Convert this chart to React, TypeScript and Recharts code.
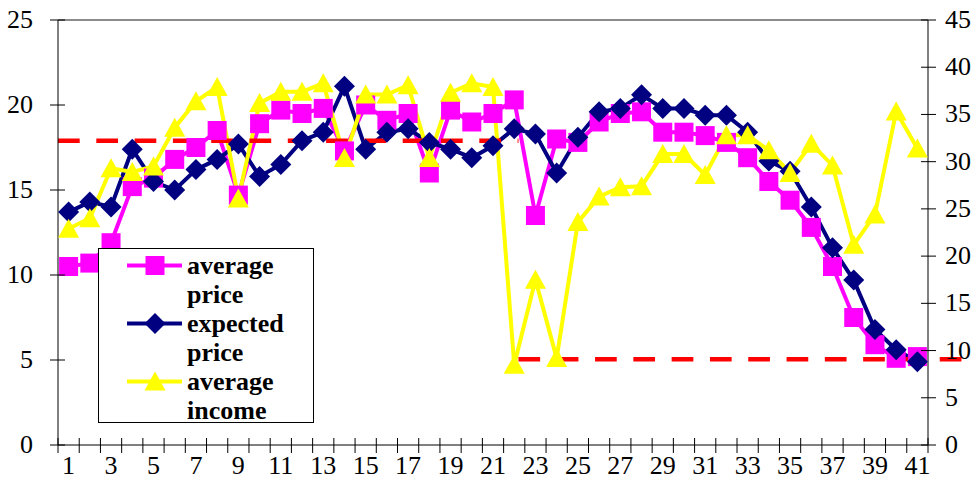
import { LineChart, Line, XAxis, YAxis, ReferenceLine, Legend } from 'recharts';

const FONT = 'Liberation Serif, DejaVu Serif, Times New Roman, Times, serif';

const periods = [
  1, 2, 3, 4, 5, 6, 7, 8, 9, 10, 11, 12, 13, 14, 15, 16, 17, 18, 19, 20, 21,
  22, 23, 24, 25, 26, 27, 28, 29, 30, 31, 32, 33, 34, 35, 36, 37, 38, 39, 40, 41,
];

// left axis
const averagePrice = [
  10.5, 10.7, 11.9, 15.2, 15.7, 16.8, 17.5, 18.5, 14.7, 18.9, 19.7, 19.5, 19.8, 17.3,
  20.0, 19.1, 19.5, 16.0, 19.7, 19.0, 19.5, 20.3, 13.5, 18.0, 17.8, 19.0, 19.5, 19.6,
  18.4, 18.4, 18.2, 17.8, 16.9, 15.5, 14.4, 12.8, 10.5, 7.5, 5.9, 5.1, 5.2,
];
const expectedPrice = [
  13.7, 14.3, 14.0, 17.4, 15.5, 15.0, 16.2, 16.8, 17.7, 15.8, 16.5, 17.9, 18.4, 21.1,
  17.4, 18.4, 18.6, 17.8, 17.4, 16.9, 17.6, 18.6, 18.3, 16.0, 18.1, 19.6, 19.8, 20.6,
  19.8, 19.8, 19.4, 19.4, 18.4, 16.7, 16.1, 14.0, 11.6, 9.7, 6.8, 5.6, 4.9,
];
// right axis
const averageIncome = [
  22.9, 24.0, 29.3, 28.9, 29.5, 33.6, 36.4, 37.9, 26.1, 36.2, 37.4, 37.4, 38.3, 30.4,
  37.1, 37.1, 38.1, 30.4, 37.3, 38.3, 37.9, 8.5, 17.5, 9.2, 23.6, 26.3, 27.3, 27.4,
  30.8, 30.8, 28.6, 32.8, 32.8, 31.2, 28.8, 31.9, 29.6, 21.2, 24.4, 35.3, 31.4,
];

const leftTicks = [0, 5, 10, 15, 20, 25];
const rightTicks = [0, 5, 10, 15, 20, 25, 30, 35, 40, 45];

// dashed levels (left axis) and the period span each one covers
const upperLevel = 17.9;
const upperSpan = [0, 21.17];
const lowerLevel = 5.05;
const lowerSpan = [21.17, 41.92];

const data = periods.map((t, i) => ({
  t,
  avgPrice: averagePrice[i],
  expPrice: expectedPrice[i],
  income: averageIncome[i],
}));

const W = 980;
const H = 487;
const LEFT_W = 58;
const RIGHT_W = 52;
const PLOT_W = W - LEFT_W - RIGHT_W;
const STEP = PLOT_W / periods.length;

const MAGENTA = '#ff00ff';
const NAVY = '#000080';
const YELLOW = '#ffff00';

const legendOrder = ['avgPrice', 'expPrice', 'income'];

function Marker({ shape, cx, cy, color }: { shape: string; cx: number; cy: number; color: string }) {
  if (shape === 'square') {
    return <rect x={cx - 9.5} y={cy - 9.5} width={19} height={19} fill={color} />;
  }
  if (shape === 'diamond') {
    return (
      <polygon
        points={`${cx},${cy - 10.5} ${cx + 10.5},${cy} ${cx},${cy + 10.5} ${cx - 10.5},${cy}`}
        fill={color}
      />
    );
  }
  return (
    <polygon
      points={`${cx},${cy - 10} ${cx + 10.5},${cy + 9} ${cx - 10.5},${cy + 9}`}
      fill={color}
    />
  );
}

const shapeOf: Record<string, string> = {
  avgPrice: 'square',
  expPrice: 'diamond',
  income: 'triangle',
};

function dotFor(key: string, color: string) {
  return (props: any) => {
    if (props.cx == null || props.cy == null) return <g key={`${key}-${props.index}`} />;
    return (
      <g key={`${key}-${props.index}`}>
        <Marker shape={shapeOf[key]} cx={props.cx} cy={props.cy} color={color} />
      </g>
    );
  };
}

function LeftTick({ x, y, payload }: any) {
  return (
    <g>
      <line x1={x - 8} x2={x + 7} y1={y} y2={y} stroke="#000" />
      <text x={x - 25} y={y + 8} textAnchor="end" fontSize={26} fontFamily={FONT} fill="#000">
        {payload.value}
      </text>
    </g>
  );
}

function RightTick({ x, y, payload }: any) {
  return (
    <g>
      <line x1={x - 7} x2={x + 8} y1={y} y2={y} stroke="#000" />
      <text x={x + 17} y={y + 8} textAnchor="start" fontSize={26} fontFamily={FONT} fill="#000">
        {payload.value}
      </text>
    </g>
  );
}

function PeriodTick({ x, y, payload, index }: any) {
  const last = index === periods.length - 1;
  return (
    <g>
      <line x1={x - STEP / 2} x2={x - STEP / 2} y1={y - 7} y2={y + 8} stroke="#000" />
      {last && <line x1={x + STEP / 2} x2={x + STEP / 2} y1={y - 7} y2={y + 8} stroke="#000" />}
      {payload.value % 2 === 1 && (
        <text x={x} y={y + 29} textAnchor="middle" fontSize={26} fontFamily={FONT} fill="#000">
          {payload.value}
        </text>
      )}
    </g>
  );
}

function SeriesLegend({ payload }: any) {
  const items = [...(payload || [])].sort(
    (a: any, b: any) => legendOrder.indexOf(a.dataKey) - legendOrder.indexOf(b.dataKey),
  );
  return (
    <div
      style={{
        width: 216,
        height: 175,
        boxSizing: 'border-box',
        border: '1px solid #000',
        background: '#fff',
        paddingTop: 2,
        fontFamily: FONT,
        fontWeight: 'bold',
        fontSize: 26,
        lineHeight: '29px',
        color: '#000',
      }}
    >
      {items.map((item: any) => (
        <div key={item.dataKey} style={{ display: 'flex', alignItems: 'flex-start' }}>
          <svg width={88} height={29} style={{ flex: 'none' }}>
            <line x1={28} x2={83} y1={14.5} y2={14.5} stroke={item.color} strokeWidth={4} />
            <Marker shape={shapeOf[item.dataKey]} cx={56} cy={14.5} color={item.color} />
          </svg>
          <div style={{ width: 120 }}>{item.value}</div>
        </div>
      ))}
    </div>
  );
}

export default function App() {
  return (
    <div style={{ position: 'absolute', left: 0, top: 0, width: W, height: H, background: '#fff' }}>
      <LineChart width={W} height={H} data={data} margin={{ top: 20, right: 0, bottom: 0, left: 0 }}>
        <XAxis
          dataKey="t"
          height={42}
          interval={0}
          padding={{ left: STEP / 2, right: STEP / 2 }}
          tickLine={false}
          tickSize={0}
          tickMargin={0}
          tick={<PeriodTick />}
          axisLine={{ stroke: '#000' }}
        />
        <XAxis xAxisId="n" type="number" domain={[0.5, 41.5]} allowDataOverflow hide />
        <YAxis
          yAxisId="left"
          width={LEFT_W}
          domain={[0, 25]}
          ticks={leftTicks}
          interval={0}
          tickLine={false}
          tickSize={0}
          tickMargin={0}
          tick={<LeftTick />}
          axisLine={{ stroke: '#000' }}
        />
        <YAxis
          yAxisId="right"
          orientation="right"
          width={RIGHT_W}
          domain={[0, 45]}
          ticks={rightTicks}
          interval={0}
          tickLine={false}
          tickSize={0}
          tickMargin={0}
          tick={<RightTick />}
          axisLine={{ stroke: '#000' }}
        />
        <ReferenceLine yAxisId="left" y={25} stroke="#8c8c8c" strokeWidth={2} />
        <Line
          yAxisId="left"
          dataKey="avgPrice"
          name="average price"
          type="linear"
          stroke={MAGENTA}
          strokeWidth={4}
          dot={dotFor('avgPrice', MAGENTA)}
          activeDot={false}
          isAnimationActive={false}
        />
        <Line
          yAxisId="left"
          dataKey="expPrice"
          name="expected price"
          type="linear"
          stroke={NAVY}
          strokeWidth={4}
          dot={dotFor('expPrice', NAVY)}
          activeDot={false}
          isAnimationActive={false}
        />
        <Line
          yAxisId="right"
          dataKey="income"
          name="average income"
          type="linear"
          stroke={YELLOW}
          strokeWidth={4}
          dot={dotFor('income', YELLOW)}
          activeDot={false}
          isAnimationActive={false}
        />
        <ReferenceLine
          xAxisId="n"
          yAxisId="left"
          ifOverflow="visible"
          segment={[
            { x: upperSpan[0], y: upperLevel },
            { x: upperSpan[1], y: upperLevel },
          ]}
          stroke="#ff0000"
          strokeWidth={4.5}
          strokeDasharray="21.7 16.6"
        />
        <ReferenceLine
          xAxisId="n"
          yAxisId="left"
          ifOverflow="visible"
          segment={[
            { x: lowerSpan[0], y: lowerLevel },
            { x: lowerSpan[1], y: lowerLevel },
          ]}
          stroke="#ff0000"
          strokeWidth={4.5}
          strokeDasharray="21.7 16.6"
        />
        <Legend
          layout="vertical"
          align="center"
          verticalAlign="middle"
          content={<SeriesLegend />}
          wrapperStyle={{ left: 98, top: 248, width: 216, height: 175, margin: 0 }}
        />
      </LineChart>
    </div>
  );
}
